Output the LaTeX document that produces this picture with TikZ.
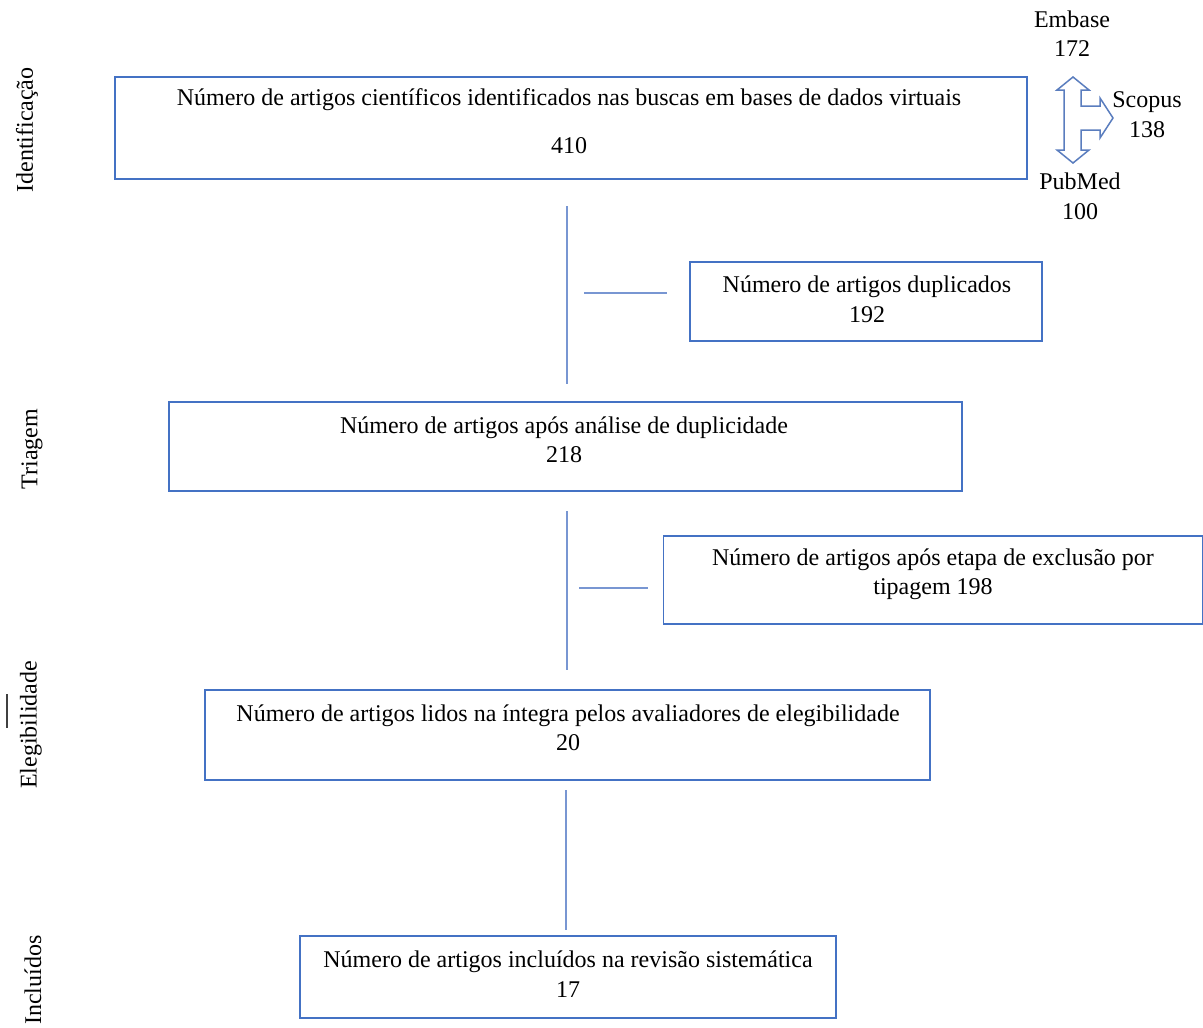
\documentclass[tikz,border=0pt]{standalone}
\usepackage{fontspec}
\setmainfont{Liberation Serif}
\definecolor{boxblue}{HTML}{4472C4}
\definecolor{lineblue}{HTML}{7896D2}
\definecolor{arrblue}{HTML}{5A7DBE}
\begin{document}
\begin{tikzpicture}[x=1pt,y=-1pt,
  box/.style={draw=boxblue,line width=1.5pt,minimum width=#1,inner sep=0pt},
  txt/.style={font=\fontsize{24}{29.5}\selectfont,align=center,inner sep=0pt,text=black},
  side/.style={font=\fontsize{24}{29.5}\selectfont,rotate=90,inner sep=0pt,text=black},
  conn/.style={draw=lineblue,line width=2pt}]
\useasboundingbox (0,0) rectangle (1203,1028);
% boxes
\node[box=912pt,minimum height=102pt] (b1) at (571,128) {};
\node[box=352pt,minimum height=79pt] (b2) at (866,301.5) {};
\node[box=793pt,minimum height=89pt] (b3) at (565.5,446.5) {};
\node[box=539pt,minimum height=88pt] (b4) at (933,580) {};
\node[box=725pt,minimum height=90pt] (b5) at (567.5,735) {};
\node[box=536pt,minimum height=82pt] (b6) at (568,977) {};
% texts
\node[txt] (t1a) at (569,100) {Número de artigos científicos identificados nas buscas em bases de dados virtuais};
\node[txt] (t1b) at (569,146) {410};
\node[txt] (t2) at (867,299.5) {Número de artigos duplicados\\192};
\node[txt] (t3) at (564,440) {Número de artigos após análise de duplicidade\\218};
\node[txt] (t4) at (933,574) {Número de artigos após etapa de exclusão por\\tipagem 198};
\node[txt] (t5) at (568,728) {Número de artigos lidos na íntegra pelos avaliadores de elegibilidade\\20};
\node[txt] (t6) at (568,974) {Número de artigos incluídos na revisão sistemática\\17};
% database labels
\node[txt] (emb) at (1072,33.5) {Embase\\172};
\node[txt] (sco) at (1147,114.5) {Scopus\\138};
\node[txt] (pub) at (1080,196.5) {PubMed\\100};
% side labels
\node[side] (s1) at (27,130) {Identificação};
\node[side] (s2) at (32,449) {Triagem};
\node[side] (s3) at (31,725) {Elegibilidade};
\node[side] (s4) at (33,980) {Incluídos};
\draw[black!75,line width=1.5pt] (7,694) -- (7,728);
% connectors
\coordinate (v1a) at (567,206); \coordinate (v1b) at (567,384);
\coordinate (h1a) at (584,293); \coordinate (h1b) at (667,293);
\coordinate (v2a) at (567,511); \coordinate (v2b) at (567,670);
\coordinate (h2a) at (579,588); \coordinate (h2b) at (648,588);
\coordinate (v3a) at (566,790); \coordinate (v3b) at (566,930);
\draw[conn] (v1a) -- (v1b);
\draw[conn] (h1a) -- (h1b);
\draw[conn] (v2a) -- (v2b);
\draw[conn] (h2a) -- (h2b);
\draw[conn] (v3a) -- (v3b);
% three-way arrow
\draw[arrblue,line width=1.5pt,fill=white,line join=miter]
  (1073,77) -- (1089,90) -- (1081,90) -- (1081,106) -- (1100,106) -- (1100,98)
  -- (1113,118) -- (1100,138) -- (1100,130) -- (1081,130) -- (1081,150)
  -- (1089,150) -- (1073,163) -- (1057,150) -- (1064,150) -- (1064,90)
  -- (1057,90) -- cycle;
\end{tikzpicture}
\end{document}
